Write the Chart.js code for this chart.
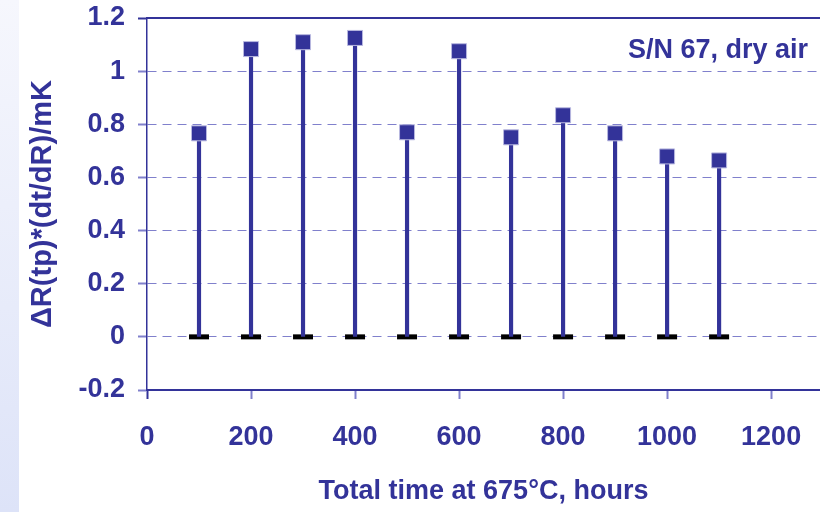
<!DOCTYPE html>
<html>
<head>
<meta charset="utf-8">
<script src="https://cdn.jsdelivr.net/npm/chart.js@4.4.1/dist/chart.umd.min.js"></script>
<style>
  html, body { margin: 0; padding: 0; background: #fff; }
  #wrap { position: relative; width: 820px; height: 512px; overflow: hidden; }
  #strip { position: absolute; left: 0; top: 0; width: 19px; height: 512px;
           background: linear-gradient(to bottom, #f6f7fd, #dde3f8); }
  canvas { position: absolute; left: 0; top: 0; }
</style>
</head>
<body>
<div id="wrap">
  <div id="strip"></div>
  <canvas id="stemChart" width="820" height="512"></canvas>
</div>
<script>
// hours at 675°C and the measured value at each
const hours = [100, 200, 300, 400, 500, 600, 700, 800, 900, 1000, 1100];
const deltaR = [0.766, 1.083, 1.109, 1.125, 0.77, 1.075, 0.751, 0.834, 0.766, 0.679, 0.664];
const baseline = [0, 0, 0, 0, 0, 0, 0, 0, 0, 0, 0];
const xTicks = [0, 200, 400, 600, 800, 1000, 1200];
const yTicks = [-0.2, 0, 0.2, 0.4, 0.6, 0.8, 1, 1.2];

const navy = '#333399';
const lavender = '#8080cc';
const font = { family: 'Liberation Sans, Arial, sans-serif', size: 27, weight: 'bold' };

const points = hours.map((h, i) => ({ x: h, y: deltaR[i] }));
const zeros = hours.map((h, i) => ({ x: h, y: baseline[i] }));

// small label inside the plot, top right
const noteLabel = {
    id: 'noteLabel',
    afterDraw(chart) {
        const ctx = chart.ctx;
        const area = chart.chartArea;
        ctx.save();
        ctx.font = 'bold 27px "Liberation Sans", Arial, sans-serif';
        ctx.fillStyle = navy;
        ctx.textAlign = 'right';
        ctx.textBaseline = 'middle';
        ctx.fillText('S/N 67, dry air', 808, area.top + 33);
        ctx.restore();
    }
};

// no extra room for overhanging tick labels
function noPad(s) {
    s.paddingTop = 0;
    s.paddingBottom = 0;
    s.paddingLeft = 0;
    s.paddingRight = 0;
}

new Chart(document.getElementById('stemChart'), {
    type: 'scatter',
    data: {
        datasets: [
            {
                type: 'scatter',
                data: zeros,
                pointStyle: 'line',
                radius: 10,
                borderColor: '#000',
                borderWidth: 5,
                order: 3
            },
            {
                type: 'bar',
                data: points,
                backgroundColor: navy,
                barThickness: 3.5,
                order: 2
            },
            {
                type: 'scatter',
                data: points,
                pointStyle: 'rect',
                radius: 10.6,
                backgroundColor: navy,
                borderColor: '#b8b8e0',
                borderWidth: 1,
                order: 1
            }
        ]
    },
    options: {
        responsive: false,
        animation: false,
        layout: { autoPadding: false, padding: { top: 18, right: 0, left: 0, bottom: 0 } },
        plugins: { legend: { display: false }, tooltip: { enabled: false } },
        scales: {
            x: {
                type: 'linear',
                offset: false,
                min: 0,
                max: 1294,
                afterBuildTicks: s => { s.ticks = xTicks.map(v => ({ value: v })); },
                afterFit: s => { s.height = 122; noPad(s); },
                grid: {
                    offset: false,
                    drawOnChartArea: false,
                    tickLength: 9,
                    tickColor: c => c.tick && c.tick.value === 0 ? navy : lavender,
                    tickWidth: 2
                },
                border: { color: navy, width: 2 },
                ticks: { color: navy, font: font, padding: 22, maxRotation: 0, callback: v => String(v) },
                title: {
                    display: true,
                    text: 'Total time at 675°C, hours',
                    color: navy,
                    font: font,
                    padding: { top: 0, bottom: 4 }
                }
            },
            x2: {
                type: 'linear',
                position: 'top',
                offset: false,
                min: 0,
                max: 1294,
                afterFit: s => { s.height = 0; noPad(s); },
                grid: { display: false },
                ticks: { display: false },
                border: { color: navy, width: 2 }
            },
            y: {
                min: -0.2,
                max: 1.2,
                afterBuildTicks: s => { s.ticks = yTicks.map(v => ({ value: v })); },
                afterFit: s => { s.width = 147; noPad(s); },
                grid: {
                    color: c => (c.tick && (c.tick.value === 1.2 || c.tick.value === -0.2)) ? 'rgba(0,0,0,0)' : lavender,
                    lineWidth: 1,
                    tickLength: 9,
                    tickColor: c => c.tick && c.tick.value === 1.2 ? navy : lavender,
                    tickWidth: 2
                },
                border: { color: navy, width: 1.5, dash: [9, 6] },
                ticks: { color: navy, font: font, padding: 13, callback: v => String(v) },
                title: {
                    display: true,
                    text: 'ΔR(tp)*(dt/dR)/mK',
                    color: navy,
                    font: Object.assign({}, font, { size: 29 }),
                    padding: { top: 26, bottom: 0 }
                }
            }
        }
    },
    plugins: [noteLabel]
});
</script>
</body>
</html>
